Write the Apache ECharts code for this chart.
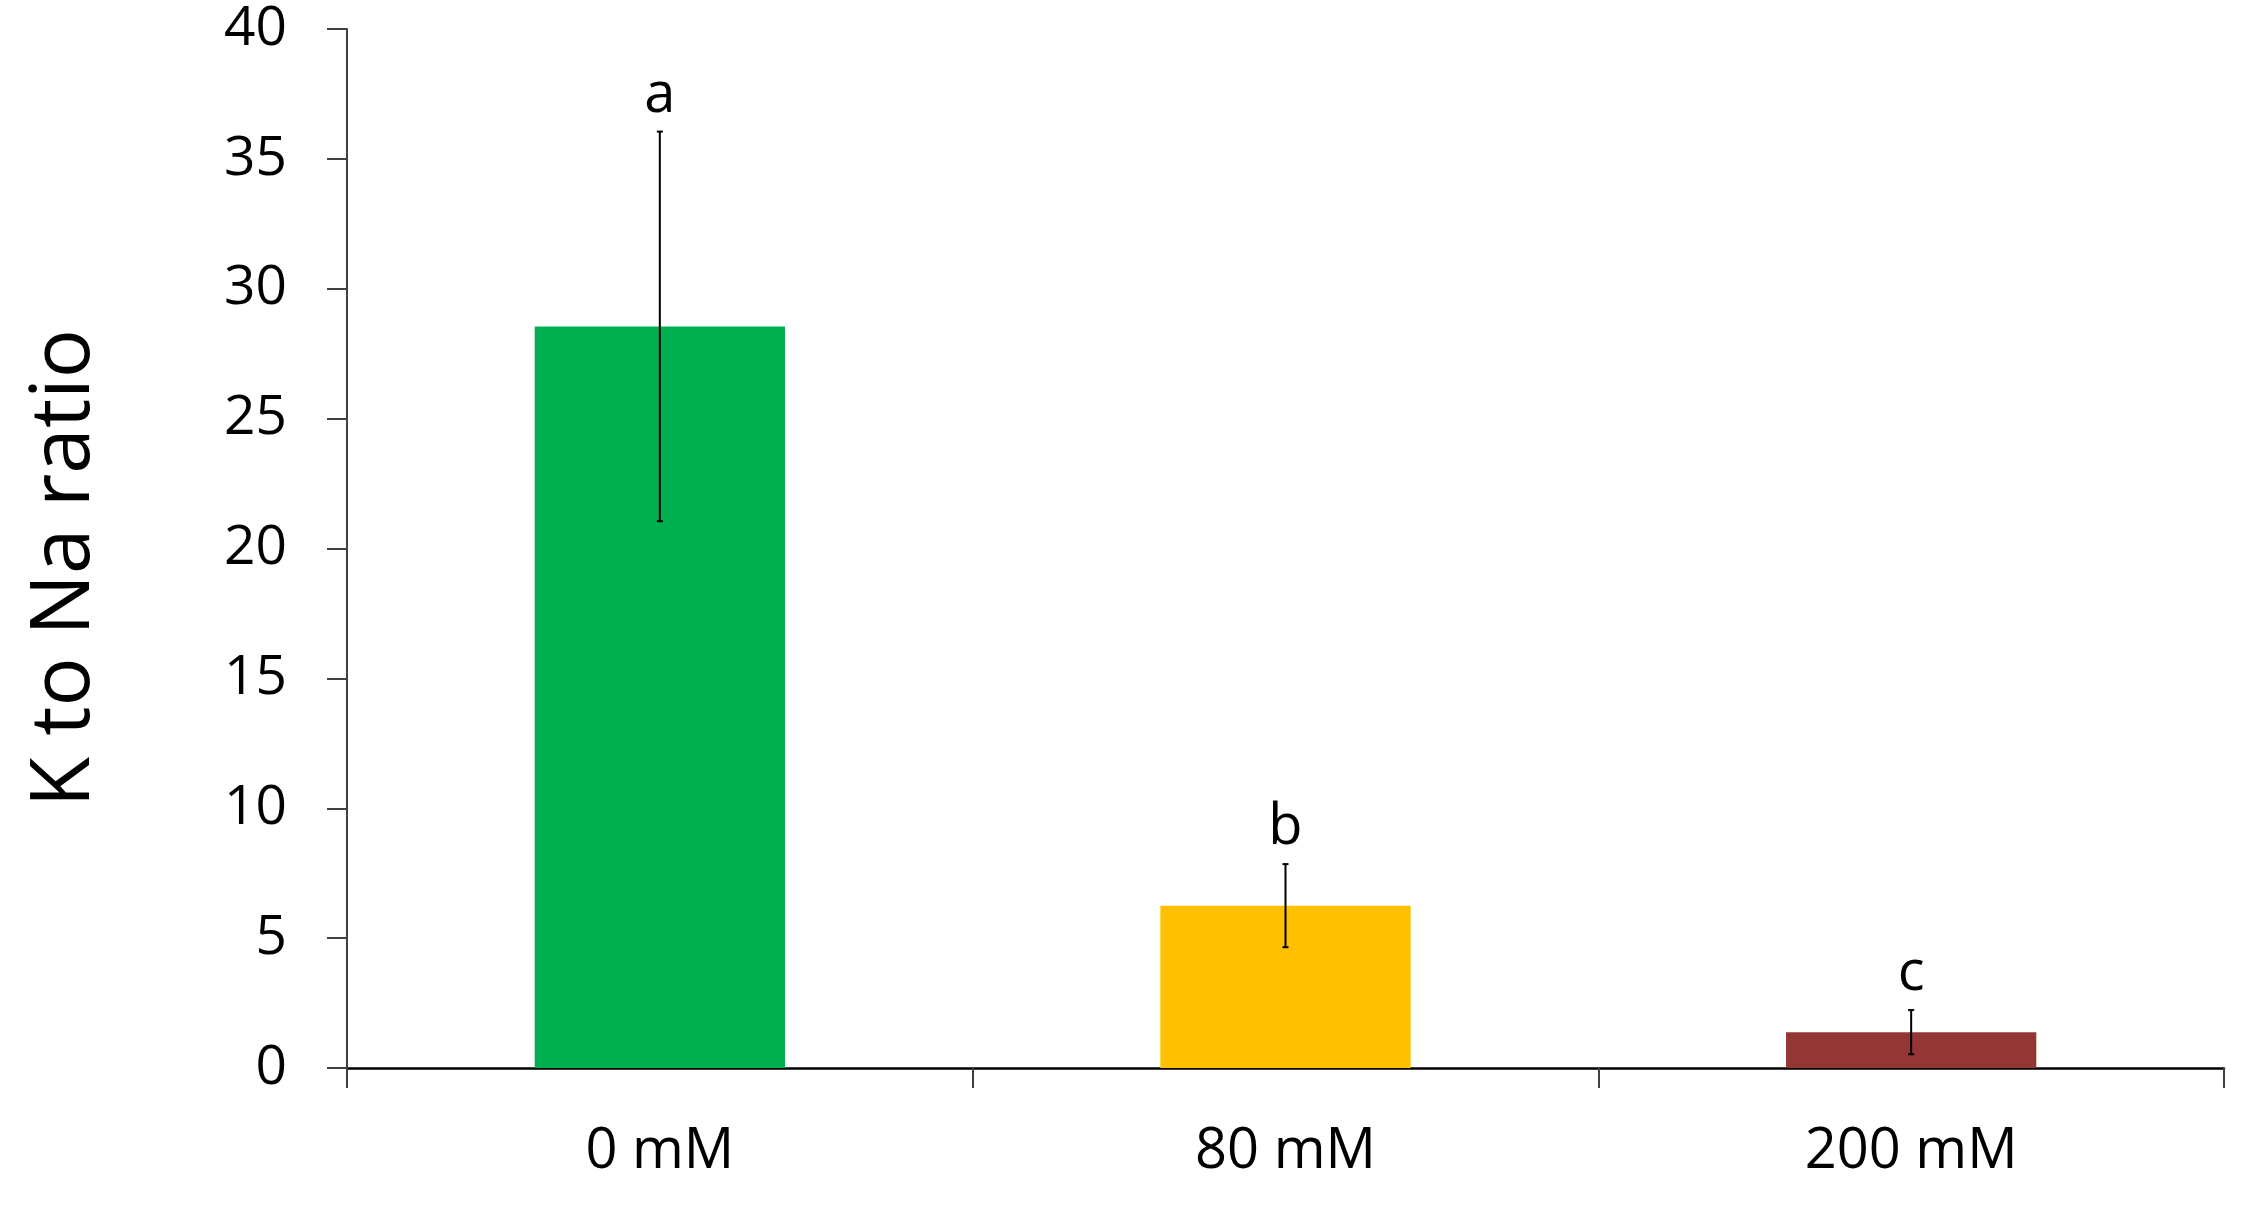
<!DOCTYPE html>
<html>
<head>
<meta charset="utf-8">
<script src="https://cdn.jsdelivr.net/npm/echarts@6/dist/echarts.min.js"></script>
<style>html,body{margin:0;padding:0;background:#fff}#c{width:2267px;height:1211px}</style>
</head>
<body>
<div id="c"></div>
<script>
var categories = ['0 mM', '80 mM', '200 mM'];
var values = [28.55, 6.25, 1.38];
var errors = [7.5, 1.6, 0.85];
var letters = ['a', 'b', 'c'];
var colors = ['#00AF50', '#FFC000', '#943634'];
var yTicks = { min: 0, max: 40, interval: 5 };

var FONT = '"Open Sans", "Liberation Sans", sans-serif';
var chart = echarts.init(document.getElementById('c'));

var errData = categories.map(function (c, i) { return [i, values[i], errors[i], letters[i]]; });

chart.setOption({
  animation: false,
  backgroundColor: '#fff',
  grid: { left: 347, right: 43, top: 29, bottom: 143 },
  xAxis: {
    type: 'category',
    data: categories,
    boundaryGap: true,
    axisLine: { lineStyle: { color: '#000', width: 2.5 } },
    axisTick: { show: true, length: 20, lineStyle: { color: '#404040', width: 2 } },
    axisLabel: { color: '#000', fontSize: 56, fontFamily: FONT, margin: 56 }
  },
  yAxis: {
    type: 'value',
    min: yTicks.min, max: yTicks.max, interval: yTicks.interval,
    axisLine: { show: true, lineStyle: { color: '#404040', width: 2 } },
    axisTick: { show: true, length: 20, lineStyle: { color: '#404040', width: 2 } },
    splitLine: { show: false },
    axisLabel: { color: '#000', fontSize: 55, fontFamily: FONT, margin: 60 }
  },
  graphic: [{
    type: 'text', x: 66, y: 568, rotation: Math.PI / 2,
    style: { text: 'K to Na ratio', fontSize: 82, fontFamily: FONT, fill: '#000',
      textAlign: 'center', textVerticalAlign: 'middle' }
  }],
  series: [{
    type: 'bar',
    data: values.map(function (v, i) { return { value: v, itemStyle: { color: colors[i] } }; }),
    barWidth: '40%'
  }, {
    type: 'custom',
    data: errData,
    z: 10,
    renderItem: function (params, api) {
      var i = api.value(0), m = api.value(1), e = api.value(2);
      var top = api.coord([i, m + e]);
      var bot = api.coord([i, m - e]);
      var cap = 3;
      return {
        type: 'group',
        children: [
          { type: 'line', shape: { x1: top[0], y1: top[1], x2: bot[0], y2: bot[1] }, style: { stroke: '#000', lineWidth: 2 } },
          { type: 'line', shape: { x1: top[0] - cap, y1: top[1], x2: top[0] + cap, y2: top[1] }, style: { stroke: '#000', lineWidth: 2 } },
          { type: 'line', shape: { x1: bot[0] - cap, y1: bot[1], x2: bot[0] + cap, y2: bot[1] }, style: { stroke: '#000', lineWidth: 2 } },
          { type: 'text', x: top[0], y: top[1] - 36, style: { text: letters[params.dataIndex], fontSize: 56, fontFamily: FONT, fill: '#000', textAlign: 'center', textVerticalAlign: 'middle' } }
        ]
      };
    }
  }]
});
</script>
</body>
</html>
